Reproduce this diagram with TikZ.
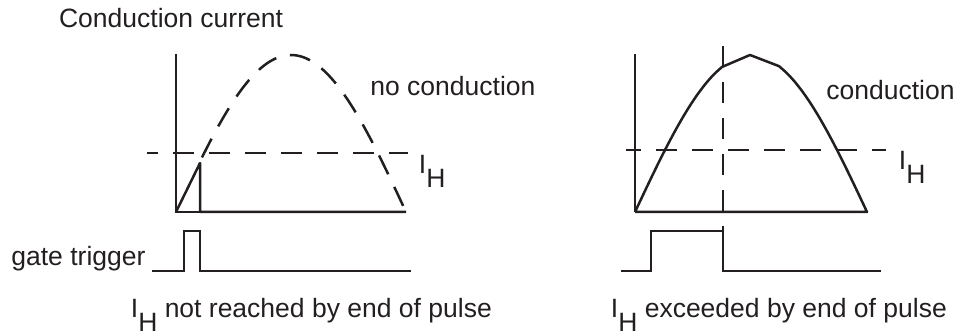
\documentclass[tikz,border=0pt]{standalone}
\usepackage{fontspec}
\setmainfont{Liberation Sans}
\definecolor{ink}{RGB}{35,31,32}
\newcommand\myIH[1]{I\raisebox{#1}{H}}
\begin{document}
\begin{tikzpicture}[x=0.5pt,y=-0.5pt,
  lbl/.style={anchor=base west,inner sep=0pt,text=ink,font=\fontsize{13.25pt}{15pt}\selectfont},
  axisline/.style={draw=ink,line width=0.55pt},
  curve/.style={draw=ink,line width=1.25pt,line join=round},
  gateline/.style={draw=ink,line width=0.65pt},
  levelline/.style={draw=ink,line width=0.6pt,dash pattern=on 10.5pt off 7.5pt},
  dashcurve/.style={draw=ink,line width=1.25pt,dash pattern=on 10.5pt off 7pt}]
\useasboundingbox (0,0) rectangle (957,335);
% ---------- left diagram ----------
\coordinate (la0) at (176,212);
\coordinate (latop) at (176,54);
\coordinate (lr) at (200,163);
\coordinate (lrb) at (200,212);
\coordinate (lend) at (406,212);
\draw[axisline] (latop) -- (la0) -- (lrb);
\draw[curve] (la0) -- (lr) -- (lrb) -- (lend);
\draw[dashcurve] plot[domain=202:406,samples=40,smooth] ({\x},{212-157*sin((\x-176)/230*180)});
\coordinate (lh1) at (147,153);
\coordinate (lh2) at (408,153);
\draw[levelline,dash phase=5pt] (lh1) -- (lh2);
% left gate
\coordinate (lg0) at (152,271);
\coordinate (lg1) at (184,271);
\coordinate (lg2) at (184,231);
\coordinate (lg3) at (200,231);
\coordinate (lg4) at (200,271);
\coordinate (lg5) at (411,271);
\draw[gateline] (lg0) -- (lg1) -- (lg2) -- (lg3) -- (lg4) -- (lg5);
% ---------- right diagram ----------
\coordinate (ra0) at (635,212);
\coordinate (ratop) at (635,54);
\coordinate (rpeak) at (750,55);
\coordinate (rend) at (867,212);
\draw[axisline] (ratop) -- (ra0);
\draw[curve] plot[domain=635:722,samples=12,smooth] ({\x},{212-157*sin((\x-635)/232*180)})
  -- (rpeak)
  -- plot[domain=779:867,samples=12,smooth] ({\x},{212-157*sin((\x-635)/232*180)})
  -- (ra0);
\coordinate (rh1) at (626,150);
\coordinate (rh2) at (886,150);
\draw[levelline,dash phase=3pt] (rh1) -- (rh2);
\coordinate (rv1) at (723,46);
\coordinate (rv2) at (723,231);
\draw[levelline] (rv1) -- (rv2);
% right gate
\coordinate (rg0) at (621,271);
\coordinate (rg1) at (651,271);
\coordinate (rg2) at (651,231);
\coordinate (rg3) at (723,231);
\coordinate (rg4) at (723,271);
\coordinate (rg5) at (881,271);
\draw[gateline] (rg0) -- (rg1) -- (rg2) -- (rg3) -- (rg4) -- (rg5);
% ---------- labels ----------
\node[lbl] (title) at (58.7,28) {Conduction current};
\node[lbl] (nocond) at (370,96) {no conduction};
\node[lbl] (cond) at (826,100) {conduction};
\node[lbl] (ihl) at (418.5,174) {\myIH{-7pt}};
\node[lbl] (ihr) at (898.5,170) {\myIH{-7pt}};
\node[lbl] (gate) at (11,266) {gate trigger};
\node[lbl] (capl) at (130.5,318) {\myIH{-6.75pt} not reached by end of pulse};
\node[lbl] (capr) at (610.5,318) {\myIH{-6.75pt} exceeded by end of pulse};
\end{tikzpicture}
\end{document}
